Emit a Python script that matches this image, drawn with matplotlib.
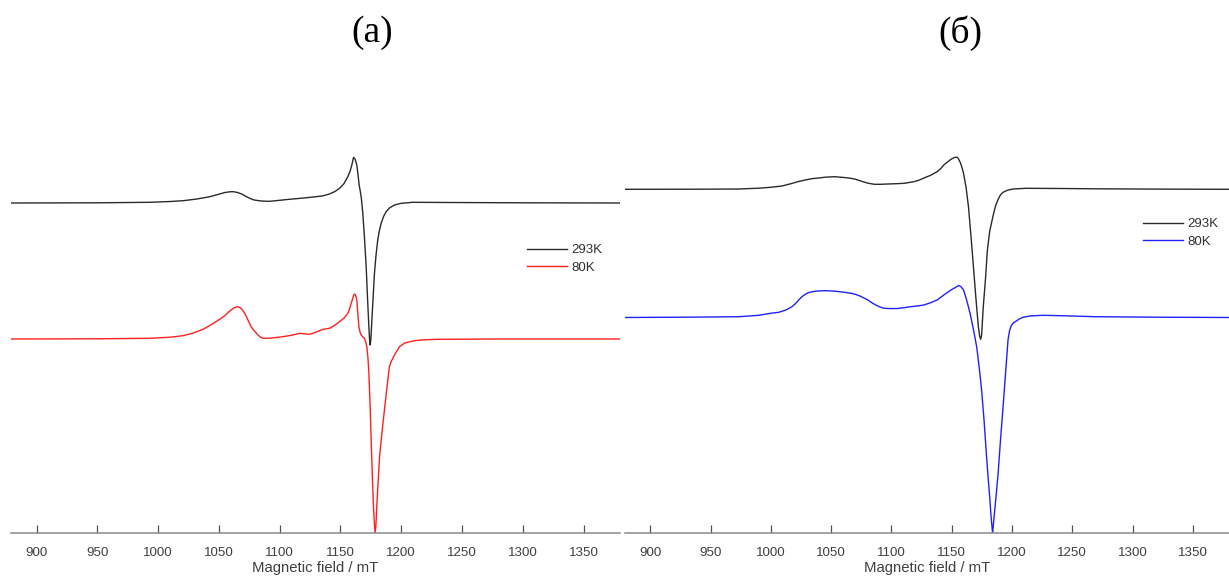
import numpy as np
import matplotlib.pyplot as plt

# --- DATA (arbitrary intensity units) ---

# panel (a), 293K
field_a_293 = [879, 950, 993, 1010, 1020.6, 1032, 1042.6, 1050, 1055, 1059,
               1062, 1065, 1068.8, 1072, 1075.4, 1079, 1083.6, 1088, 1091.8, 1100,
               1108, 1120, 1130, 1135, 1141, 1145.5, 1149.3, 1153, 1156.1, 1158,
               1159.5, 1160.8, 1162, 1163.5, 1164.5, 1165.4, 1166.3, 1167.2, 1168.4, 1169.8,
               1171.2, 1172.3, 1173.4, 1174.0, 1174.5, 1175.0, 1175.6, 1176.2, 1177.1, 1178.0,
               1179.3, 1180.7, 1182, 1183.5, 1185.5, 1187.6, 1190.5, 1194.5, 1200, 1209.5,
               1240, 1300, 1380]
signal_a_293 = [0, 0.2, 0.7, 1.5, 2.3, 4, 6.3, 8.8, 10.5, 11.2,
                11.3, 10.6, 9, 6.8, 4.7, 3.0, 2.2, 1.8, 1.7, 2.7,
                3.7, 5.0, 6.3, 7, 9, 11.5, 14.7, 19.5, 26.3, 32,
                38.5, 45.7, 44, 38, 28, 18, 12, 5, -10, -35,
                -63.7, -95, -123.7, -137, -142, -137, -124, -110, -90, -70.3,
                -52, -37, -28, -20.3, -13.5, -8.7, -4.8, -2, -0.3, 0.7,
                0.5, 0.2, 0]

# panel (a), 80K
field_a_80 = [879, 950, 993, 1010, 1020.6, 1029, 1037, 1044, 1050.7, 1055,
              1058.9, 1062, 1065, 1067, 1068.8, 1070.8, 1072.7, 1074.5, 1076.2, 1078.5,
              1080.9, 1083.5, 1086.3, 1092, 1102.7, 1110, 1116.5, 1120, 1124.7, 1130,
              1135.6, 1141.1, 1145, 1149.3, 1153, 1156.1, 1158, 1159.7, 1161, 1161.9,
              1162.8, 1163.5, 1164.3, 1165.2, 1166.1, 1167.1, 1168.5, 1169.8, 1170.8, 1171.7,
              1172.6, 1173.4, 1174.3, 1175.3, 1176.2, 1177.2, 1178.0, 1178.6, 1179.2, 1179.9,
              1181, 1182.2, 1184.3, 1186.5, 1188.5, 1190.3, 1191.7, 1194.5, 1198.6, 1203,
              1209.5, 1218, 1231, 1280, 1380]
signal_a_80 = [0, 0.2, 0.7, 1.8, 3.3, 6, 9.7, 14.5, 19.7, 23.5,
               28, 30.8, 32.3, 31.6, 30, 26.5, 22.3, 17.5, 13, 9,
               5.7, 2.5, 0.7, 0.8, 2.3, 3.8, 5.7, 5.2, 4.7, 6.8,
               9.7, 10.7, 13.5, 17.3, 21, 25.7, 32, 39, 44, 45,
               42.5, 39, 26, 12.3, 7, 4, 2, 0.7, -3, -7.7,
               -18, -34, -62, -101, -135, -167.7, -186, -194, -186, -167.7,
               -143, -117.7, -92, -67.7, -46, -27.7, -22.7, -16, -7.7, -4,
               -2, -0.8, -0.3, 0, 0]

# panel (б), 293K
field_b_293 = [879, 940, 973.7, 990, 999.7, 1009.3, 1017.2, 1023, 1028.5, 1034,
               1039.4, 1046, 1053.1, 1060.7, 1065, 1069.5, 1073.5, 1077.1, 1081, 1085.9,
               1091, 1096.8, 1104, 1110.6, 1118.6, 1123, 1127, 1132.5, 1137.9, 1141,
               1143.4, 1146, 1148.6, 1150.8, 1152.7, 1154.2, 1155.5, 1157.2, 1158.6, 1159.8,
               1161.9, 1163.9, 1166, 1168.0, 1170, 1172.1, 1173.2, 1174.0, 1174.8, 1176.2,
               1178.0, 1179.5, 1181.5, 1184.4, 1186.5, 1188.5, 1190.5, 1192.6, 1196.5, 1200.9,
               1211.8, 1240, 1269.2, 1320, 1380]
signal_b_293 = [0, 0.1, 0.3, 1.1, 2, 3.3, 5.8, 7.8, 9.3, 10.6,
                11.3, 12.2, 12.6, 11.8, 11.2, 10.3, 8.8, 7.3, 6, 5,
                5, 5.3, 5.6, 6, 7.6, 9.2, 11.3, 14.0, 17.6, 20.8,
                24.3, 26.8, 29.3, 31, 32, 32.2, 30.8, 26.5, 21.5, 16,
                2, -17.4, -47, -77.4, -108, -137.4, -147, -150, -146, -117,
                -90, -62, -42, -26, -16, -10, -5.5, -3, -0.8, 0.3,
                1, 0.8, 0.5, 0.2, 0]

# panel (б), 80K
field_b_80 = [879, 940, 973.7, 990, 999.7, 1006.5, 1012.5, 1017.5, 1020.5, 1023,
              1026, 1028.5, 1031.5, 1035.3, 1040, 1044.6, 1050, 1055.8, 1061, 1066.7,
              1070.5, 1073.9, 1077.2, 1080.4, 1083.7, 1087, 1090.5, 1094.1, 1100, 1105.1,
              1110.5, 1116, 1121.5, 1127, 1132.5, 1137.9, 1143.4, 1149.4, 1153, 1155.7,
              1157.5, 1159.8, 1162.5, 1165.2, 1168, 1170.7, 1172.8, 1174.8, 1176.9, 1178.9,
              1180.2, 1181.4, 1182.7, 1183.9, 1185.1, 1186.3, 1188.5, 1190.5, 1192.6, 1194.7,
              1196.7, 1198, 1199.5, 1201.5, 1203.6, 1206, 1209.1, 1215, 1225.5, 1240,
              1269.2, 1320, 1380]
signal_b_80 = [0, 0.4, 0.8, 2.2, 4.2, 5.2, 7.5, 10.8, 14, 17.5,
               21, 23.2, 25, 26, 26.6, 26.8, 26.6, 26, 25.2, 24.2,
               23, 21.5, 19.5, 17.5, 14.8, 12.5, 10.5, 9.2, 8.9, 9,
               9.8, 10.8, 11.5, 12.5, 14.8, 17.5, 22.5, 27.5, 30, 32,
               31, 27.5, 17, 4.2, -12, -29.2, -50, -72.5, -104, -139.2,
               -160, -178, -200, -215.8, -200, -185, -155.8, -122, -89.2, -55,
               -22.5, -13, -8, -5, -3.5, -1.5, 0.2, 1.5, 2.2, 1.8,
               0.8, 0.3, 0]

# vertical offsets of the stacked spectra
offset_a = {'293K': 330, '80K': 194}
offset_b = {'293K': 343.7, '80K': 215.5}

xticks = [900, 950, 1000, 1050, 1100, 1150, 1200, 1250, 1300, 1350]
panel_titles = ['(а)', '(б)']

# --- PLOT ---

W, H = 1229, 576
fig = plt.figure(figsize=(W / 100, H / 100), dpi=100)
fig.patch.set_facecolor('white')

sans = 'Liberation Sans'
text_col = '#404040'

def make_axes(left_px, right_px):
    ax = fig.add_axes([left_px / W, (H - 533) / H, (right_px - left_px) / W, 433 / H])
    ax.set_xlim(879, 1380)
    ax.set_ylim(0, 433)
    for s in ['left', 'right', 'top']:
        ax.spines[s].set_visible(False)
    ax.spines['bottom'].set_color('#8a8a8a')
    ax.spines['bottom'].set_linewidth(1.1)
    ax.set_yticks([])
    ax.set_xticks(xticks)
    ax.tick_params(axis='x', direction='in', length=6, width=0.9, color='#505050',
                   pad=10, labelsize=9.6, labelcolor=text_col)
    for lab in ax.get_xticklabels():
        lab.set_fontfamily(sans)
    # the label sits right at the bottom edge, as in the original figure
    ax.set_xlabel('Magnetic field / mT', fontsize=10.7, color=text_col,
                  fontfamily=sans, labelpad=1.5)
    ax.patch.set_alpha(0)
    return ax

ax1 = make_axes(11, 620)
ax1.plot(field_a_293, np.array(signal_a_293) + offset_a['293K'], color='#2a2a2a', lw=1.0, label='293K')
ax1.plot(field_a_80, np.array(signal_a_80) + offset_a['80K'], color='#ff2020', lw=1.0, label='80K')

ax2 = make_axes(625, 1229)
ax2.plot(field_b_293, np.array(signal_b_293) + offset_b['293K'], color='#2a2a2a', lw=1.0, label='293K')
ax2.plot(field_b_80, np.array(signal_b_80) + offset_b['80K'], color='#2020ff', lw=1.0, label='80K')

for ax, (lx, ty) in [(ax1, (527, 244)), (ax2, (1143, 218))]:
    leg = ax.legend(loc='upper left', bbox_to_anchor=(lx / W, 1 - ty / H),
                    bbox_transform=fig.transFigure, frameon=False, borderpad=0,
                    borderaxespad=0, handlelength=3.0, handletextpad=0.35,
                    labelspacing=0.42, prop={'family': sans, 'size': 9.5})
    for t in leg.get_texts():
        t.set_color('#303030')

fig.text(372 / W, 1 - 33 / H, panel_titles[0], ha='center', va='center',
         fontfamily='Liberation Serif', fontsize=27)
fig.text(960 / W, 1 - 33 / H, panel_titles[1], ha='center', va='center',
         fontfamily='Liberation Serif', fontsize=27)

fig.savefig('out.png', dpi=100, facecolor='white')
